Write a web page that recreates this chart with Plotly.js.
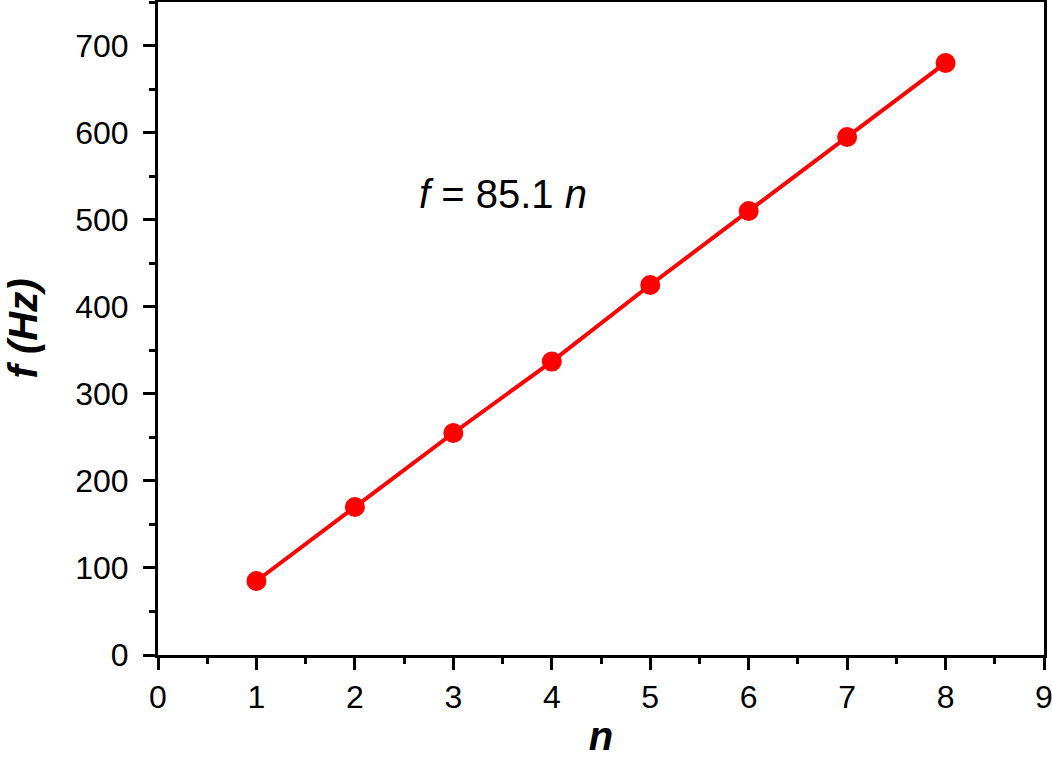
<!DOCTYPE html>
<html><head><meta charset="utf-8">
<script src="https://cdn.plot.ly/plotly-3.0.1.min.js"></script>
<style>html,body{margin:0;padding:0;background:#fff}#chart{width:1052px;height:758px}</style>
</head><body><div id="chart"></div>
<script>
var harmonicN = [1, 2, 3, 4, 5, 6, 7, 8];
var frequencyHz = [85, 170, 255, 337, 425, 510, 595, 680];
var xTickVals = [0, 1, 2, 3, 4, 5, 6, 7, 8, 9];
var yTickVals = [0, 100, 200, 300, 400, 500, 600, 700];

var trace = {
  x: harmonicN, y: frequencyHz, type: 'scatter', mode: 'lines+markers',
  line: {color: '#ff0000', width: 4},
  marker: {color: '#ff0000', size: 20},
  showlegend: false, cliponaxis: false
};
var fam = 'Arial, Liberation Sans, sans-serif';
var axisFont = {family: fam, size: 32, color: '#000'};
var layout = {
  width: 1052, height: 758,
  margin: {l: 158, r: 8, t: 2, b: 103},
  paper_bgcolor: '#fff', plot_bgcolor: '#fff',
  xaxis: {
    range: [0, 9], tickvals: xTickVals, ticks: 'outside', ticklen: 12, tickwidth: 3,
    tickcolor: '#000', showline: true, linewidth: 3, linecolor: '#000', mirror: true,
    showgrid: false, zeroline: false, tickfont: axisFont, ticklabeloverflow: 'allow',
    minor: {dtick: 0.5, ticks: 'outside', ticklen: 6, tickwidth: 3, tickcolor: '#000', showgrid: false},
    title: {text: '<b><i>n</i></b>', font: {family: fam, size: 40, color: '#000'}, standoff: 26}
  },
  yaxis: {
    range: [0, 750], tickvals: yTickVals, ticks: 'outside', ticklen: 12, tickwidth: 3,
    tickcolor: '#000', showline: true, linewidth: 3, linecolor: '#000', mirror: true,
    showgrid: false, zeroline: false, tickfont: axisFont, ticklabelstandoff: 8,
    minor: {dtick: 50, ticks: 'outside', ticklen: 6, tickwidth: 3, tickcolor: '#000', showgrid: false},
    title: {text: '<b><i>f (Hz)</i></b>', font: {family: fam, size: 40, color: '#000'}, standoff: 26}
  },
  annotations: [{
    x: 3.5, y: 530, xref: 'x', yref: 'y', showarrow: false,
    text: '<i>f</i> = 85.1 <i>n</i>',
    font: {family: fam, size: 40, color: '#000'}
  }]
};
Plotly.newPlot('chart', [trace], layout, {displayModeBar: false, staticPlot: true});
</script></body></html>
